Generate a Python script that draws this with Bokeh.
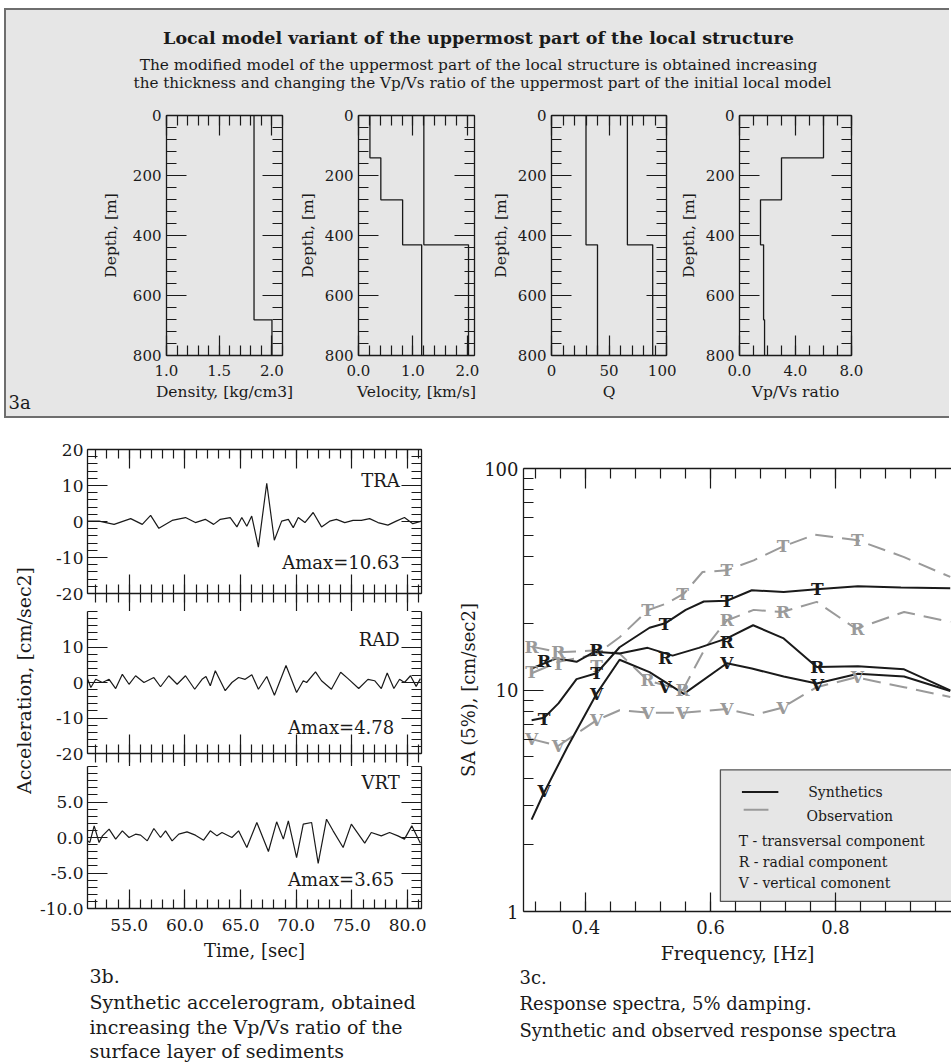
import math
from bokeh.plotting import figure
from bokeh.models import Range1d, LinearAxis, LogAxis, FixedTicker, PrintfTickFormatter, Spacer
from bokeh.layouts import row, column
from bokeh.core.properties import value
from bokeh.embed import file_html
from bokeh.resources import INLINE

FONT = "DejaVu Serif"
INK = "#1a1a1a"
PANEL_BG = "#e6e6e6"
OBS_GRAY = "#9a9a9a"

# ---------------- 3a : local model ----------------
layer_top_depth = [0, 141, 281, 431, 681]
model_base_depth = 800
density = [1.83, 1.83, 1.83, 1.83, 2.0]
vs = [0.21, 0.41, 0.81, 1.16, 1.16]
vp = [1.20, 1.20, 1.20, 2.02, 2.02]
qs = [30, 30, 30, 40, 40]
qp = [66, 66, 66, 88, 88]
vpvs = [6.0, 3.0, 1.5, 1.72, 1.79]
depth_ticks = [0, 200, 400, 600, 800]

# ---------------- 3b : synthetic accelerograms ----------------
tra_time = [51.25, 52.29, 53.64, 55.13, 56.17, 56.92, 57.66, 58.85, 60.05, 60.94, 61.83, 62.58,
            63.18, 64.07, 64.67, 65.11, 65.56, 66.0, 66.6, 67.35, 68.03, 68.69, 69.29, 69.73,
            70.18, 70.78, 71.52, 72.27, 73.0, 73.61, 74.36, 75.1, 75.85, 76.59, 77.34, 78.23,
            78.98, 79.72, 80.47, 81.25]
tra_acc = [0.1, 0.1, -0.8, 0.8, -0.8, 1.7, -1.9, 0.3, 1.1, -0.3, 0.6, -0.8,
           0.6, 1.1, -1.5, 1.1, -1.3, 1.5, -7.1, 10.63, -5.2, 0.1, 0.6, -1.7,
           1.1, -0.3, 2.5, -1.5, 0.1, 0.6, -0.3, 0.3, 0.3, 0.8, -0.3, -1.0,
           0.1, 1.1, -0.6, 0.1]
rad_time = [51.25, 51.55, 51.99, 52.59, 53.19, 53.78, 54.38, 54.98, 55.57, 56.32, 57.21, 57.81,
            58.55, 59.3, 60.05, 60.88, 61.54, 61.89, 62.28, 62.73, 63.62, 64.22, 64.82, 65.41,
            66.01, 66.6, 67.35, 68.04, 69.08, 70.03, 70.63, 70.93, 71.73, 72.27, 73.16, 73.99,
            74.65, 75.61, 76.44, 77.04, 77.64, 78.17, 78.77, 79.28, 79.72, 80.26, 80.77, 81.15]
rad_acc = [1.1, -1.4, 0.9, 0.0, 0.9, -1.7, 2.3, -0.5, 1.9, 0.0, 1.4, -1.2,
           1.9, -0.5, 1.9, -1.9, 0.9, 1.7, -0.9, 3.3, -2.3, 0.0, 1.4, 0.9,
           2.2, -1.9, 1.7, -3.6, 4.78, -2.8, 0.5, 0.0, 3.0, 0.5, -1.9, 2.9,
           1.1, -1.7, 0.9, 0.5, -1.7, 2.7, -1.7, 0.9, 0.0, 1.9, -1.1, 1.1]
vrt_time = [51.25, 51.46, 51.85, 52.29, 52.59, 53.19, 53.78, 54.38, 54.98, 55.57, 56.02, 56.62,
            57.21, 57.81, 58.26, 58.85, 59.45, 60.19, 60.94, 61.68, 62.28, 62.88, 63.33, 64.22,
            64.82, 65.56, 66.46, 67.5, 68.24, 68.84, 69.29, 70.03, 70.63, 71.38, 71.97, 72.72,
            73.31, 74.21, 74.95, 76.15, 76.74, 77.64, 78.38, 79.13, 79.72, 80.38, 81.15]
vrt_acc = [-0.47, -0.7, 1.64, -0.7, 0.23, 1.17, -0.23, 0.94, 0.0, 0.47, 0.33, -0.47,
           1.27, 0.0, 0.94, -0.47, 0.47, 0.8, 0.33, -0.38, 0.94, 0.23, 0.7, 0.0,
           0.94, -1.41, 2.11, -1.97, 2.21, -0.23, 2.35, -2.82, 1.88, 2.11, -3.65, 2.58,
           0.94, -1.41, 1.88, -0.8, 0.7, 0.23, 0.7, 0.23, -0.23, 1.64, -0.8]
component_names = ["TRA", "RAD", "VRT"]
amax_values = ["Amax=10.63", "Amax=4.78", "Amax=3.65"]
time_ticks = [55, 60, 65, 70, 75, 80]

# ---------------- 3c : response spectra ----------------
syn_T_f = [0.313, 0.333, 0.356, 0.385, 0.417, 0.454, 0.502, 0.527, 0.560, 0.589, 0.626, 0.666,
           0.717, 0.770, 0.836, 0.905, 0.984]
syn_T_sa = [7.3, 7.5, 8.7, 11.2, 11.9, 15.6, 19.1, 20.0, 23.0, 25.1, 25.3, 28.2,
            27.7, 28.5, 29.4, 29.0, 28.8]
syn_R_f = [0.313, 0.353, 0.385, 0.414, 0.454, 0.499, 0.539, 0.581, 0.626, 0.668, 0.717, 0.770,
           0.836, 0.910, 0.984]
syn_R_sa = [12.5, 13.9, 13.4, 14.9, 14.6, 15.5, 14.3, 15.5, 17.1, 19.6, 17.1, 12.7,
            12.8, 12.4, 9.96]
syn_V_f = [0.313, 0.332, 0.370, 0.417, 0.454, 0.502, 0.557, 0.626, 0.666, 0.717, 0.770, 0.836,
           0.910, 0.984]
syn_V_sa = [2.6, 3.4, 5.5, 9.6, 13.7, 12.05, 9.6, 13.2, 12.5, 11.5, 10.7, 11.85, 11.5, 9.9]
obs_T_f = [0.313, 0.356, 0.417, 0.454, 0.499, 0.528, 0.557, 0.587, 0.626, 0.669, 0.717, 0.767,
           0.836, 0.910, 0.984]
obs_T_sa = [11.9, 13.4, 14.5, 17.3, 22.9, 24.5, 27.2, 34.1, 34.7, 38.5, 44.6, 50.3,
            47.4, 39.8, 32.4]
obs_R_f = [0.313, 0.356, 0.417, 0.454, 0.499, 0.555, 0.592, 0.626, 0.669, 0.714, 0.770, 0.833,
           0.910, 0.984]
obs_R_sa = [15.7, 14.8, 15.1, 14.6, 11.05, 9.96, 15.6, 20.6, 23.0, 22.5, 25.0, 18.9, 22.5, 20.3]
obs_V_f = [0.313, 0.356, 0.417, 0.454, 0.499, 0.555, 0.626, 0.669, 0.714, 0.770, 0.833, 0.910,
           0.984]
obs_V_sa = [6.0, 5.6, 7.3, 8.1, 7.9, 7.9, 8.2, 7.7, 8.3, 10.3, 11.4, 10.3, 9.3]
syn_mark_f = [0.333, 0.417, 0.527, 0.626, 0.771]
syn_T_mark = [7.4, 11.9, 19.8, 25.3, 28.7]
syn_R_mark = [13.5, 15.1, 14.0, 16.5, 12.7]
syn_V_mark = [3.5, 9.6, 10.3, 13.2, 10.5]
obs_mark_f = [0.313, 0.356, 0.417, 0.499, 0.555, 0.626, 0.716, 0.835]
obs_T_mark = [12.0, 13.1, 12.9, 22.9, 27.2, 34.7, 44.6, 47.4]
obs_R_mark = [15.7, 14.8, 15.1, 11.05, 9.96, 20.6, 22.5, 18.9]
obs_V_mark = [6.0, 5.6, 7.3, 7.9, 7.9, 8.2, 8.3, 11.4]
freq_ticks = [0.4, 0.6, 0.8, 1.0]


# ---------------- helpers ----------------
def style_axis(ax, maj_in, min_in, maj_out=0, min_out=0, size=None, standoff=5):
    ax.axis_line_color = INK
    ax.axis_line_width = 1.3
    ax.major_tick_line_color = INK
    ax.minor_tick_line_color = INK
    ax.major_tick_line_width = 1.2
    ax.minor_tick_line_width = 1.2
    ax.major_tick_in = maj_in
    ax.major_tick_out = maj_out
    ax.minor_tick_in = min_in
    ax.minor_tick_out = min_out
    ax.major_label_text_font = FONT
    ax.axis_label_text_font = FONT
    ax.axis_label_text_font_style = "normal"
    ax.axis_label_text_color = INK
    if size is None:
        ax.major_label_text_font_size = "0px"
        ax.major_label_text_color = None
        ax.major_label_standoff = 0
    else:
        ax.major_label_text_font_size = size
        ax.major_label_text_color = INK
        ax.major_label_standoff = standoff
    return ax


def base_fig(w, h, xr, yr, bl, br, bt, bb, bg="white", **kw):
    p = figure(width=w, height=h, x_range=xr, y_range=yr, output_backend="svg",
               toolbar_location=None, x_axis_location=None, y_axis_location=None,
               min_border_left=bl, min_border_right=br, min_border_top=bt, min_border_bottom=bb,
               background_fill_color=bg, border_fill_color=bg, outline_line_color=None, **kw)
    p.grid.visible = False
    return p


def text_canvas(w, h, bg="white"):
    return base_fig(w, h, Range1d(0, w), Range1d(0, h), 0, 0, 0, 0, bg=bg)


def put_text(p, x, y, s, size, align="left", style="normal", angle=0.0, color=INK):
    p.text(x=[x], y=[y], text=[s], text_font=value(FONT), text_font_size=size,
           text_align=align, text_baseline="middle", text_font_style=style,
           angle=angle, text_color=color)


def step_xy(vals):
    bounds = layer_top_depth + [model_base_depth]
    xs, ys = [], []
    for i, v in enumerate(vals):
        xs += [v, v]
        ys += [bounds[i], bounds[i + 1]]
    return xs, ys


# ---------------- 3a ----------------
BOX_W = 943
header = text_canvas(BOX_W, 95, PANEL_BG)
put_text(header, 472, 95 - 27, "Local model variant of the uppermost part of the local structure",
         "17.5px", "center", "bold")
put_text(header, 472, 95 - 54, "The modified model of the uppermost part of the local structure is obtained increasing",
         "15.4px", "center")
put_text(header, 476, 95 - 72, "the thickness and changing the Vp/Vs ratio of the uppermost part of the initial local model",
         "15.2px", "center")

fig3a = text_canvas(60, 311, PANEL_BG)
put_text(fig3a, 2, 311 - 297, "3a", "18px", "left")

depth_minor = list(range(0, 801, 40))


def depth_panel(width, bl, br, xr, xmajor, xminor, fmt, xlabel, profiles, ylab_standoff=5):
    p = base_fig(width, 311, Range1d(*xr), Range1d(800, 0), bl, br, 10, 61, bg=PANEL_BG)
    yt = FixedTicker(ticks=depth_ticks, minor_ticks=depth_minor)
    xt = FixedTicker(ticks=xmajor, minor_ticks=xminor)
    left = style_axis(LinearAxis(ticker=yt, formatter=PrintfTickFormatter(format="%d"),
                                 axis_label="Depth, [m]"), 20, 10, size="15px", standoff=5)
    left.axis_label_text_font_size = "15.5px"
    left.axis_label_standoff = ylab_standoff
    right = style_axis(LinearAxis(ticker=yt), 20, 10)
    top = style_axis(LinearAxis(ticker=xt), 20, 10)
    bottom = style_axis(LinearAxis(ticker=xt, formatter=PrintfTickFormatter(format=fmt),
                                   axis_label=xlabel), 20, 10, size="15px", standoff=9)
    bottom.axis_label_text_font_size = "15.5px"
    bottom.axis_label_standoff = 4
    p.add_layout(left, "left")
    p.add_layout(right, "right")
    p.add_layout(top, "above")
    p.add_layout(bottom, "below")
    for vals in profiles:
        xs, ys = step_xy(vals)
        p.line(xs, ys, line_color=INK, line_width=1.3)
    return p


f_dens = depth_panel(228, 100, 12, (1.0, 2.1), [1.0, 1.5, 2.0],
                     [round(1.0 + 0.1 * i, 2) for i in range(12)], "%.1f",
                     "Density, [kg/cm3]", [density], ylab_standoff=10)
f_vel = depth_panel(190, 64, 10, (0.0, 2.13), [0.0, 1.0, 2.0],
                    [round(0.2 * i, 2) for i in range(11)], "%.1f",
                    "Velocity, [km/s]", [vs, vp])
f_q = depth_panel(192, 67, 10, (0, 100), [0, 50, 100], list(range(0, 101, 10)), "%d",
                  "Q", [qs, qp])
f_r = depth_panel(273, 59, 98, (0.0, 8.0), [0.0, 4.0, 8.0], [float(i) for i in range(9)], "%.1f",
                  "Vp/Vs ratio", [vpvs])

top_box = column(header, row(column(fig3a), f_dens, f_vel, f_q, f_r),
                 styles={"border": "2px solid #6e6e6e", "border-right": "none",
                         "background-color": PANEL_BG})

# ---------------- 3b ----------------
time_minor = list(range(51, 82))
TR = (51.25, 81.25)


def trace_panel(height, bt, bb, yr, ymaj, ymin, yfmt, has_top, bottom_kind):
    p = base_fig(419, height, Range1d(*TR), Range1d(*yr), 49, 34, bt, bb)
    yt = FixedTicker(ticks=ymaj, minor_ticks=ymin)
    xt = FixedTicker(ticks=time_ticks, minor_ticks=time_minor)
    left = style_axis(LinearAxis(ticker=yt, formatter=PrintfTickFormatter(format=yfmt)),
                      20, 10, size="17px", standoff=4)
    right = style_axis(LinearAxis(ticker=yt), 20, 10)
    p.add_layout(left, "left")
    p.add_layout(right, "right")
    if has_top:
        p.add_layout(style_axis(LinearAxis(ticker=xt), 19, 9), "above")
    if bottom_kind == "cross":
        p.add_layout(style_axis(LinearAxis(ticker=xt), 19, 9, maj_out=min(18, bb), min_out=9), "below")
    else:
        b = style_axis(LinearAxis(ticker=xt, formatter=PrintfTickFormatter(format="%.1f"),
                                  axis_label="Time, [sec]"), 19, 9, size="17px", standoff=10)
        b.axis_label_text_font_size = "18px"
        b.axis_label_standoff = 6
        p.add_layout(b, "below")
    return p


p_tra = trace_panel(193, 31, 18, (-20, 20), [-20, -10, 0, 10, 20], list(range(-20, 21, 2)), "%d",
                    True, "cross")
p_tra.line(tra_time, tra_acc, line_color=INK, line_width=1.2)
put_text(p_tra, 79.3, 11.3, component_names[0], "18px", "right")
put_text(p_tra, 79.3, -11.5, amax_values[0], "18px", "right")

p_rad = trace_panel(155, 0, 13, (-20, 20), [-20, -10, 0, 10], list(range(-20, 21, 2)), "%d",
                    False, "cross")
p_rad.line(rad_time, rad_acc, line_color=INK, line_width=1.2)
put_text(p_rad, 79.3, 12.2, component_names[1], "18px", "right")
put_text(p_rad, 78.8, -12.6, amax_values[1], "18px", "right")

p_vrt = trace_panel(199, 0, 57, (-10, 10), [-10, -5, 0, 5], list(range(-10, 11, 1)), "%.1f",
                    False, "labels")
p_vrt.line(vrt_time, vrt_acc, line_color=INK, line_width=1.2)
put_text(p_vrt, 79.3, 7.8, component_names[2], "18px", "right")
put_text(p_vrt, 78.8, -5.9, amax_values[2], "18px", "right")

ytitle_b = text_canvas(36, 547)
put_text(ytitle_b, 23, 547 - 262, "Acceleration, [cm/sec2]", "19px", "center", angle=math.pi / 2)

cap_b = text_canvas(455, 99)
put_text(cap_b, 89, 99 - 10, "3b.", "19px")
put_text(cap_b, 89, 99 - 36, "Synthetic accelerogram, obtained", "19px")
put_text(cap_b, 89, 99 - 61, "increasing the Vp/Vs ratio of the", "19px")
put_text(cap_b, 89, 99 - 85, "surface layer of sediments", "19px")

block_b = column(row(ytitle_b, column(p_tra, p_rad, p_vrt)), cap_b)

# ---------------- 3c ----------------
p_c = figure(width=496, height=550, x_range=Range1d(0.3, 0.986), y_range=Range1d(1, 100),
             y_axis_type="log", output_backend="svg", toolbar_location=None,
             x_axis_location=None, y_axis_location=None,
             min_border_left=65, min_border_right=0, min_border_top=50, min_border_bottom=57,
             background_fill_color="white", border_fill_color="white", outline_line_color=None)
p_c.grid.visible = False
log_minor = [m * d for d in (1, 10) for m in range(2, 10)]
yt_c = FixedTicker(ticks=[1, 10, 100], minor_ticks=log_minor)
xt_c = FixedTicker(ticks=freq_ticks, minor_ticks=[round(0.32 + 0.04 * i, 2) for i in range(17)])
lc = style_axis(LogAxis(ticker=yt_c, formatter=PrintfTickFormatter(format="%d"),
                        axis_label="SA (5%), [cm/sec2]"), 20, 10, size="18px", standoff=5)
lc.axis_label_text_font_size = "18px"
lc.axis_label_standoff = 2
p_c.add_layout(lc, "left")
p_c.add_layout(style_axis(LinearAxis(ticker=xt_c), 20, 10), "above")
bc = style_axis(LinearAxis(ticker=xt_c, formatter=PrintfTickFormatter(format="%.1f"),
                           axis_label="Frequency, [Hz]"), 19, 10, size="18px", standoff=8)
bc.axis_label_text_font_size = "19px"
bc.axis_label_standoff = 5
p_c.add_layout(bc, "below")

for f, s in ((obs_T_f, obs_T_sa), (obs_R_f, obs_R_sa), (obs_V_f, obs_V_sa)):
    p_c.line(f, s, line_color=OBS_GRAY, line_width=2, line_dash="18 9")
for f, s in ((syn_T_f, syn_T_sa), (syn_R_f, syn_R_sa), (syn_V_f, syn_V_sa)):
    p_c.line(f, s, line_color=INK, line_width=2)


def marks(p, fs, vals, letter, color):
    p.text(x=fs, y=vals, text=[letter] * len(fs), text_font=value(FONT), text_font_size="17px",
           text_font_style="bold", text_align="center", text_baseline="middle", text_color=color)


for vals, letter in ((obs_T_mark, "T"), (obs_R_mark, "R"), (obs_V_mark, "V")):
    marks(p_c, obs_mark_f, vals, letter, OBS_GRAY)
for vals, letter in ((syn_T_mark, "T"), (syn_R_mark, "R"), (syn_V_mark, "V")):
    marks(p_c, syn_mark_f, vals, letter, INK)

# legend box
p_c.quad(left=[0.6156], right=[1.05], bottom=[1.11], top=[4.36], fill_color=PANEL_BG,
         line_color="#555555", line_width=1.3)
p_c.line([0.6501, 0.7085], [3.46, 3.46], line_color=INK, line_width=2)
p_c.line([0.6529, 0.6926], [2.88, 2.88], line_color=OBS_GRAY, line_width=2)
for x, y, s in ((0.7563, 3.46, "Synthetics"), (0.7536, 2.71, "Observation"),
                (0.6449, 2.09, "T - transversal component"), (0.6449, 1.668, "R - radial component"),
                (0.6449, 1.341, "V - vertical comonent")):
    p_c.text(x=[x], y=[y], text=[s], text_font=value(FONT), text_font_size="14px",
             text_align="left", text_baseline="middle", text_color=INK)

cap_c = text_canvas(496, 96)
put_text(cap_c, 64, 96 - 9, "3c.", "18px")
put_text(cap_c, 64, 96 - 35, "Response spectra, 5% damping.", "18px")
put_text(cap_c, 64, 96 - 62, "Synthetic and observed  response spectra", "18px")

block_c = column(p_c, row(cap_c))

layout = column(Spacer(height=8), row(Spacer(width=4), top_box), row(block_b, block_c))

open("out.html", "w").write(file_html(layout, INLINE))
